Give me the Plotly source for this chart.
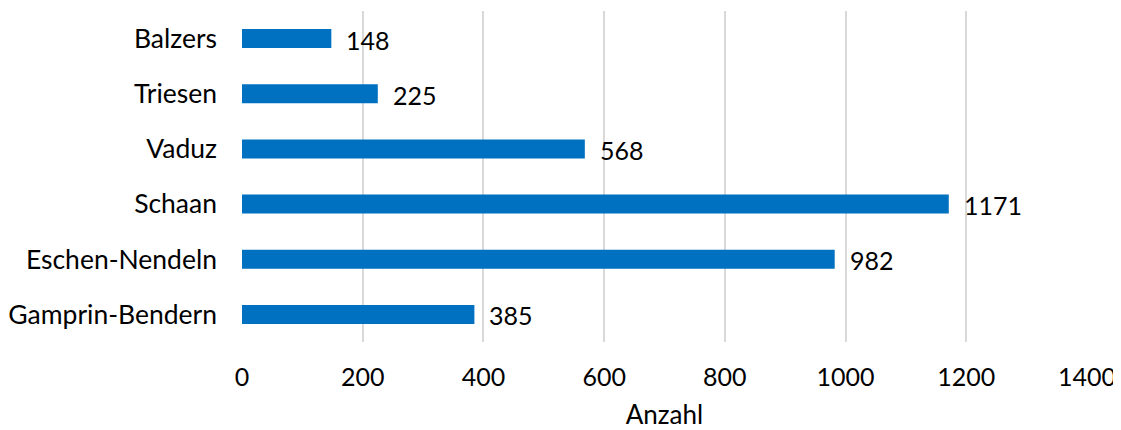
import plotly.graph_objects as go

categories = ["Balzers", "Triesen", "Vaduz", "Schaan", "Eschen-Nendeln", "Gamprin-Bendern"]
values = [148, 225, 568, 1171, 982, 385]
x_ticks = [0, 200, 400, 600, 800, 1000, 1200, 1400]

FONT = "Lato"
fig = go.Figure()
fig.add_trace(go.Bar(
    x=values, y=categories, orientation="h",
    marker=dict(color="#0070C0", line=dict(width=0)),
    width=0.345,
    hoverinfo="x+y",
))
annotations = [
    dict(x=v, y=c, xref="x", yref="y", text=str(v), showarrow=False,
         xanchor="left", yanchor="middle", xshift=13, yshift=-1,
         font=dict(family=FONT, size=25, color="#000000"))
    for c, v in zip(categories, values)
]
# page body adds an 8px offset; figure is sized to fill the rest of the window
fig.update_layout(
    width=1113, height=422,
    margin=dict(l=233.6, r=33.7, t=3, b=88, autoexpand=False),
    paper_bgcolor="white", plot_bgcolor="white",
    font=dict(family=FONT, size=26.5, color="#000000"),
    showlegend=False,
    annotations=annotations,
    xaxis=dict(
        range=[0, 1400], tickvals=x_ticks, ticktext=[str(t) for t in x_ticks],
        showgrid=True, gridcolor="#D9D9D9", gridwidth=1.5,
        zeroline=False, showline=False, ticks="", automargin=False,
        ticklabelstandoff=18, tickfont=dict(family=FONT, size=25),
        title=dict(text="Anzahl", standoff=22, font=dict(family=FONT, size=26)),
    ),
    yaxis=dict(
        autorange="reversed", showgrid=False, zeroline=False, showline=False,
        ticks="", ticklabelstandoff=24, automargin=False,
    ),
)
fig.write_html("out.html")
